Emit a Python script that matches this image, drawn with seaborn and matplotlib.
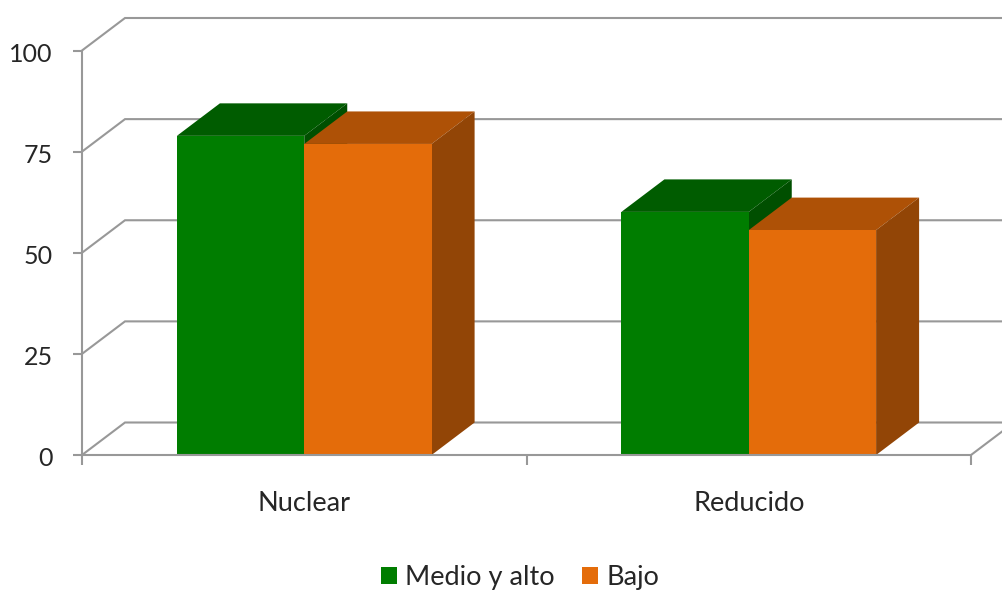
import matplotlib
matplotlib.use("Agg")
import matplotlib.pyplot as plt
from matplotlib.patches import Polygon
from matplotlib.transforms import ScaledTranslation
import pandas as pd
import seaborn as sns

categories = ["Nuclear", "Reducido"]
series_names = ["Medio y alto", "Bajo"]
medio_alto = [78.9, 60.1]
bajo = [76.9, 55.6]
y_ticks = [0, 25, 50, 75, 100]

GRID = "#989898"
TEXT = "#262626"
VALUE_FONT = 18
LABEL_FONT = 19.5
front_colors = {"Medio y alto": "#007D00", "Bajo": "#E46C0A"}
top_colors = {"Medio y alto": "#005C00", "Bajo": "#AE5106"}
side_colors = {"Medio y alto": "#004F00", "Bajo": "#924506"}

sns.set_theme(style="white")
plt.rcParams["font.family"] = ["Lato", "DejaVu Sans"]

W, H = 1003, 591
fig = plt.figure(figsize=(W / 100, H / 100), dpi=100, facecolor="white")
left, right, bottom, top = 82, 971, 455, 50.5
ax = fig.add_axes([left / W, 1 - bottom / H, (right - left) / W, (bottom - top) / H])

df = pd.DataFrame({
    "tipo": categories * 2,
    "nivel": [series_names[0]] * 2 + [series_names[1]] * 2,
    "valor": medio_alto + bajo,
})
sns.barplot(
    data=df, x="tipo", y="valor", hue="nivel", order=categories,
    hue_order=series_names, palette=front_colors, width=0.573, gap=0,
    saturation=1, linewidth=0, ax=ax, zorder=6,
)
ax.set_xlim(-0.5, 1.5)
ax.set_ylim(0, 100)

# Oblique depth of the fake 3D box, in data units
dx = 43.0 / ((right - left) / 2)
dy = 32.5 / (bottom - top) * 100

# Back wall and the slanted gridlines joining it to the front plane
for v in y_ticks:
    ax.plot([-0.5, -0.5 + dx, 1.5 + dx + 0.2], [v, v + dy, v + dy],
            color=GRID, lw=1.5, clip_on=False, zorder=1, solid_joinstyle="miter")
ax.plot([1.5, 1.5 + dx], [0, dy], color=GRID, lw=1.5, clip_on=False, zorder=1)

# Top and side faces of each bar, taken from the bars seaborn drew
for name, container in zip(series_names, ax.containers):
    z = 3 if name == series_names[0] else 4
    for bar in container:
        x0, x1, h = bar.get_x(), bar.get_x() + bar.get_width(), bar.get_height()
        ax.add_patch(Polygon([(x0, h), (x1, h), (x1 + dx, h + dy), (x0 + dx, h + dy)],
                             closed=True, fc=top_colors[name], ec="none",
                             clip_on=False, zorder=z))
        ax.add_patch(Polygon([(x1, 0), (x1 + dx, dy), (x1 + dx, h + dy), (x1, h)],
                             closed=True, fc=side_colors[name], ec="none",
                             clip_on=False, zorder=z))

for s in ["top", "right"]:
    ax.spines[s].set_visible(False)
for s in ["left", "bottom"]:
    ax.spines[s].set_color(GRID)
    ax.spines[s].set_linewidth(1.5)
    ax.spines[s].set_zorder(7)

ax.set_xlabel("")
ax.set_ylabel("")
ax.set_yticks(y_ticks)
ax.set_xticks([0, 1], categories)
ax.set_xticks([-0.5, 0.5, 1.5], minor=True)
ax.tick_params(axis="y", which="major", left=True, length=6.5, width=1.5, color=GRID,
               labelsize=VALUE_FONT, labelcolor=TEXT, pad=14.5)
ax.tick_params(axis="x", which="major", bottom=False, length=0, labelsize=LABEL_FONT,
               labelcolor=TEXT, pad=26)
ax.tick_params(axis="x", which="minor", bottom=True, length=7, width=1.5, color=GRID)

# Value labels sit slightly below their tick marks
nudge = ScaledTranslation(0, -2 / 100, fig.dpi_scale_trans)
for label in ax.get_yticklabels():
    label.set_transform(label.get_transform() + nudge)

handles, labels = ax.get_legend_handles_labels()
ax.legend(
    handles, labels, loc="center", bbox_to_anchor=(520 / W, 1 - 578 / H),
    bbox_transform=fig.transFigure, ncol=2, frameon=False, fontsize=LABEL_FONT,
    labelcolor=TEXT, handlelength=0.59, handleheight=0.59, handletextpad=0.3,
    columnspacing=1.0, borderpad=0, borderaxespad=0,
)

fig.savefig("out.png", dpi=100, facecolor="white")
